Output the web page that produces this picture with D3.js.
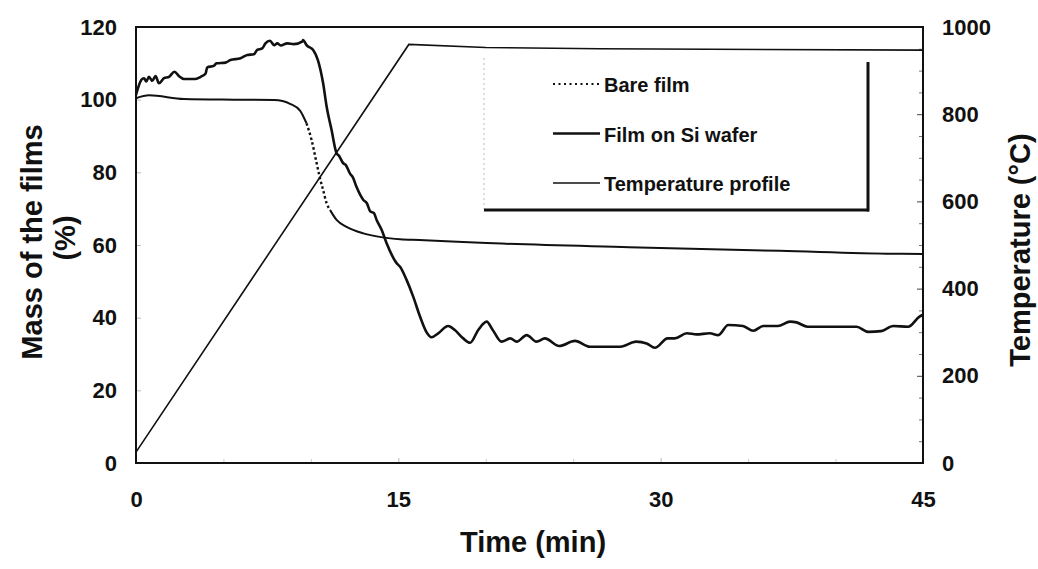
<!DOCTYPE html>
<html>
<head>
<meta charset="utf-8">
<script src="https://cdn.jsdelivr.net/npm/d3@7"></script>
<style>
  html, body { margin: 0; padding: 0; background: #fff; }
  svg { display: block; }
  text { font-family: "Liberation Sans", Arial, sans-serif; font-weight: bold; fill: #111; }
</style>
</head>
<body>
<svg id="chart" width="1038" height="569"></svg>
<script>
// Film on Si wafer: time (min) and mass (%)
const siTime = [0, 0.3, 0.46, 0.59, 0.74, 0.93, 1.12, 1.31, 1.6, 1.89, 2.2, 2.45, 2.74, 3.4, 3.7, 3.98, 4.07, 4.45, 4.6, 5.12, 5.4, 5.98, 6.36, 6.74, 6.93, 7.22, 7.4, 7.66, 7.9, 8.08, 8.27, 8.65, 9.03, 9.5, 9.56, 9.75, 10.13, 10.4, 10.7, 10.9, 11.18, 11.47, 11.6, 11.85, 12.0, 12.23, 12.4, 12.6, 13.0, 13.2, 13.4, 13.6, 13.76, 14.05, 14.33, 14.9, 15.1, 15.47, 15.85, 16.24, 16.6, 16.9, 17.28, 17.85, 18.23, 18.71, 19.1, 19.57, 20.05, 20.4, 20.9, 21.4, 21.77, 22.34, 22.9, 23.38, 24.2, 25.1, 25.96, 27.7, 28.6, 29.2, 29.67, 30.4, 30.8, 31.5, 32.05, 32.8, 33.3, 33.86, 34.7, 35.3, 35.86, 36.7, 37.4, 37.77, 38.4, 41.2, 41.87, 42.6, 43.3, 44.15, 44.8, 45];
const siMass = [101.3, 105.4, 105.9, 105.0, 106.3, 105.2, 106.5, 104.5, 105.9, 106.3, 107.7, 106.5, 105.7, 105.7, 106.3, 107.2, 108.9, 109.3, 110.0, 110.2, 110.9, 111.4, 112.3, 112.5, 113.7, 114.1, 115.5, 116.2, 115.0, 115.5, 114.9, 115.5, 115.3, 116.0, 116.4, 115.0, 113.7, 110.9, 104.5, 98.1, 91.7, 85.2, 84.6, 82.5, 82.0, 79.7, 78.6, 76.1, 72.4, 71.5, 69.2, 68.8, 66.9, 64.1, 60.5, 55.0, 54.0, 50.4, 45.8, 40.3, 36.1, 34.6, 35.7, 37.7, 36.6, 34.3, 33.1, 36.6, 38.9, 36.6, 33.4, 34.3, 33.4, 35.2, 33.4, 34.3, 32.2, 33.6, 32.0, 32.0, 33.4, 32.9, 31.7, 34.3, 34.3, 35.7, 35.4, 35.7, 35.2, 38.0, 37.7, 36.4, 37.7, 37.7, 38.9, 38.7, 37.5, 37.5, 36.1, 36.3, 37.7, 37.5, 40.3, 40.8];

// Bare film: time (min) and mass (%)
const bareTime = [0, 0.74, 2.74, 5.6, 7.9, 8.84, 9.38, 9.75, 10.04, 10.33, 10.5, 10.7, 10.9, 11.1, 11.47, 12.04, 13.0, 14.1, 15.1, 16.2, 19.7, 28.2, 36.8, 43.3, 45];
const bareMass = [100.4, 101.2, 100.2, 100.0, 99.9, 98.8, 97.0, 93.5, 88.9, 82.5, 78.8, 75.1, 71.5, 69.6, 66.9, 65.0, 63.2, 62.1, 61.6, 61.4, 60.6, 59.4, 58.4, 57.6, 57.5];
// stretch of the bare-film trace that shows as dots (fast mass loss)
const bareDottedFrom = 9.75, bareDottedTo = 11.1;

// Temperature profile: time (min) and temperature (°C)
const tempTime = [0, 15.6, 20, 26.5, 45];
const tempValue = [25, 960, 953, 950, 947];

// Axis ticks
const xTickLabels = [0, 15, 30, 45];
const xMinorTicks = [5, 10, 20, 25, 35, 40];
const leftTickLabels = [0, 20, 40, 60, 80, 100, 120];
const rightTickLabels = [0, 200, 400, 600, 800, 1000];
const rightMinorTicks = [50, 100, 150, 250, 300, 350, 450, 500, 550, 650, 700, 750, 850, 900, 950];

// Legend entries
const legendLabels = ["Bare film", "Film on Si wafer", "Temperature profile"];

const svg = d3.select("#chart");
const L = 136, R = 923, T = 27, B = 463;

const x = d3.scaleLinear().domain([0, 45]).range([L, R]);
const yL = d3.scaleLinear().domain([0, 120]).range([B, T]);
const yR = d3.scaleLinear().domain([0, 1000]).range([B, T]);
const plain = d3.format("d");

// ---- axes ----
const gLeft = svg.append("g").attr("transform", `translate(${L},0)`)
  .call(d3.axisLeft(yL).tickValues(leftTickLabels).tickFormat(plain)
    .tickSizeInner(-5).tickSizeOuter(0).tickPadding(19));
gLeft.selectAll("text").style("font-size", "22px");
gLeft.selectAll(".tick line").attr("stroke", "#bbb");

const gRight = svg.append("g").attr("transform", `translate(${R},0)`)
  .call(d3.axisRight(yR).tickValues(rightTickLabels).tickFormat(plain)
    .tickSizeInner(-6).tickSizeOuter(0).tickPadding(19));
gRight.selectAll("text").style("font-size", "22px");
gRight.selectAll(".tick line").attr("stroke", "#444");
svg.append("g").attr("transform", `translate(${R},0)`)
  .call(d3.axisRight(yR).tickValues(rightMinorTicks).tickSizeInner(-4).tickSizeOuter(0).tickFormat(""))
  .selectAll(".tick line").attr("stroke", "#777");

const gBottom = svg.append("g").attr("transform", `translate(0,${B})`)
  .call(d3.axisBottom(x).tickValues(xTickLabels).tickFormat(plain)
    .tickSizeInner(-5).tickSizeOuter(0).tickPadding(28));
gBottom.selectAll("text").style("font-size", "22px");
gBottom.selectAll(".tick line").attr("stroke", "#bbb");
svg.append("g").attr("transform", `translate(0,${B})`)
  .call(d3.axisBottom(x).tickValues(xMinorTicks).tickSizeInner(-4).tickSizeOuter(0).tickFormat(""))
  .selectAll(".tick line").attr("stroke", "#ccc");

svg.selectAll(".domain").remove();

// plot frame
svg.append("rect")
  .attr("x", L).attr("y", T).attr("width", R - L).attr("height", B - T)
  .attr("fill", "none").attr("stroke", "#111").attr("stroke-width", 2);

// ---- axis titles ----
svg.append("text")
  .attr("transform", "translate(42,242) rotate(-90)")
  .attr("text-anchor", "middle").style("font-size", "29px")
  .text("Mass of the films");
svg.append("text")
  .attr("transform", "translate(75,238) rotate(-90)")
  .attr("text-anchor", "middle").style("font-size", "29px")
  .text("(%)");
svg.append("text")
  .attr("transform", "translate(1030,250) rotate(-90)")
  .attr("text-anchor", "middle").style("font-size", "29px")
  .text("Temperature (°C)");
svg.append("text")
  .attr("x", 533).attr("y", 552)
  .attr("text-anchor", "middle").style("font-size", "29px")
  .text("Time (min)");

// ---- series ----
const siData = siTime.map((t, i) => ({ t, v: siMass[i] }));
const bareData = bareTime.map((t, i) => ({ t, v: bareMass[i] }));
const tempData = tempTime.map((t, i) => ({ t, v: tempValue[i] }));

const massLine = d3.line().x(d => x(d.t)).y(d => yL(d.v)).curve(d3.curveMonotoneX);
const tempLine = d3.line().x(d => x(d.t)).y(d => yR(d.v));

// temperature profile
svg.append("path").datum(tempData)
  .attr("d", tempLine).attr("fill", "none")
  .attr("stroke", "#111").attr("stroke-width", 1.6);

// bare film: solid before and after the fast-loss stretch, dotted through it
svg.append("path").datum(bareData.filter(d => d.t <= bareDottedFrom))
  .attr("d", massLine).attr("fill", "none")
  .attr("stroke", "#111").attr("stroke-width", 2);
svg.append("path").datum(bareData.filter(d => d.t >= bareDottedFrom && d.t <= bareDottedTo))
  .attr("d", massLine).attr("fill", "none")
  .attr("stroke", "#111").attr("stroke-width", 2.4).attr("stroke-dasharray", "2.5,2.5");
svg.append("path").datum(bareData.filter(d => d.t >= bareDottedTo))
  .attr("d", massLine).attr("fill", "none")
  .attr("stroke", "#111").attr("stroke-width", 2);

// film on Si wafer
svg.append("path").datum(siData)
  .attr("d", massLine).attr("fill", "none")
  .attr("stroke", "#111").attr("stroke-width", 2.6).attr("stroke-linejoin", "round");

// ---- legend ----
const lg = svg.append("g");
lg.append("line").attr("x1", 484).attr("y1", 58).attr("x2", 484).attr("y2", 209)
  .attr("stroke", "#bbb").attr("stroke-width", 1).attr("stroke-dasharray", "2,3");
lg.append("line").attr("x1", 484).attr("y1", 210).attr("x2", 869).attr("y2", 210)
  .attr("stroke", "#111").attr("stroke-width", 3);
lg.append("line").attr("x1", 868).attr("y1", 62).attr("x2", 868).attr("y2", 211.5)
  .attr("stroke", "#111").attr("stroke-width", 3);

const legendStyles = [
  { w: 2, dash: "2,3.5" },
  { w: 2.6, dash: null },
  { w: 1.6, dash: null }
];
const legendY = d3.scalePoint().domain(legendLabels).range([84, 183]);
legendLabels.forEach((lab, i) => {
  const yy = legendY(lab);
  lg.append("line").attr("x1", 553).attr("x2", 600).attr("y1", yy).attr("y2", yy)
    .attr("stroke", "#111").attr("stroke-width", legendStyles[i].w)
    .attr("stroke-dasharray", legendStyles[i].dash);
  lg.append("text").attr("x", 604).attr("y", yy + 8)
    .style("font-size", "20px").text(lab);
});
</script>
</body>
</html>
